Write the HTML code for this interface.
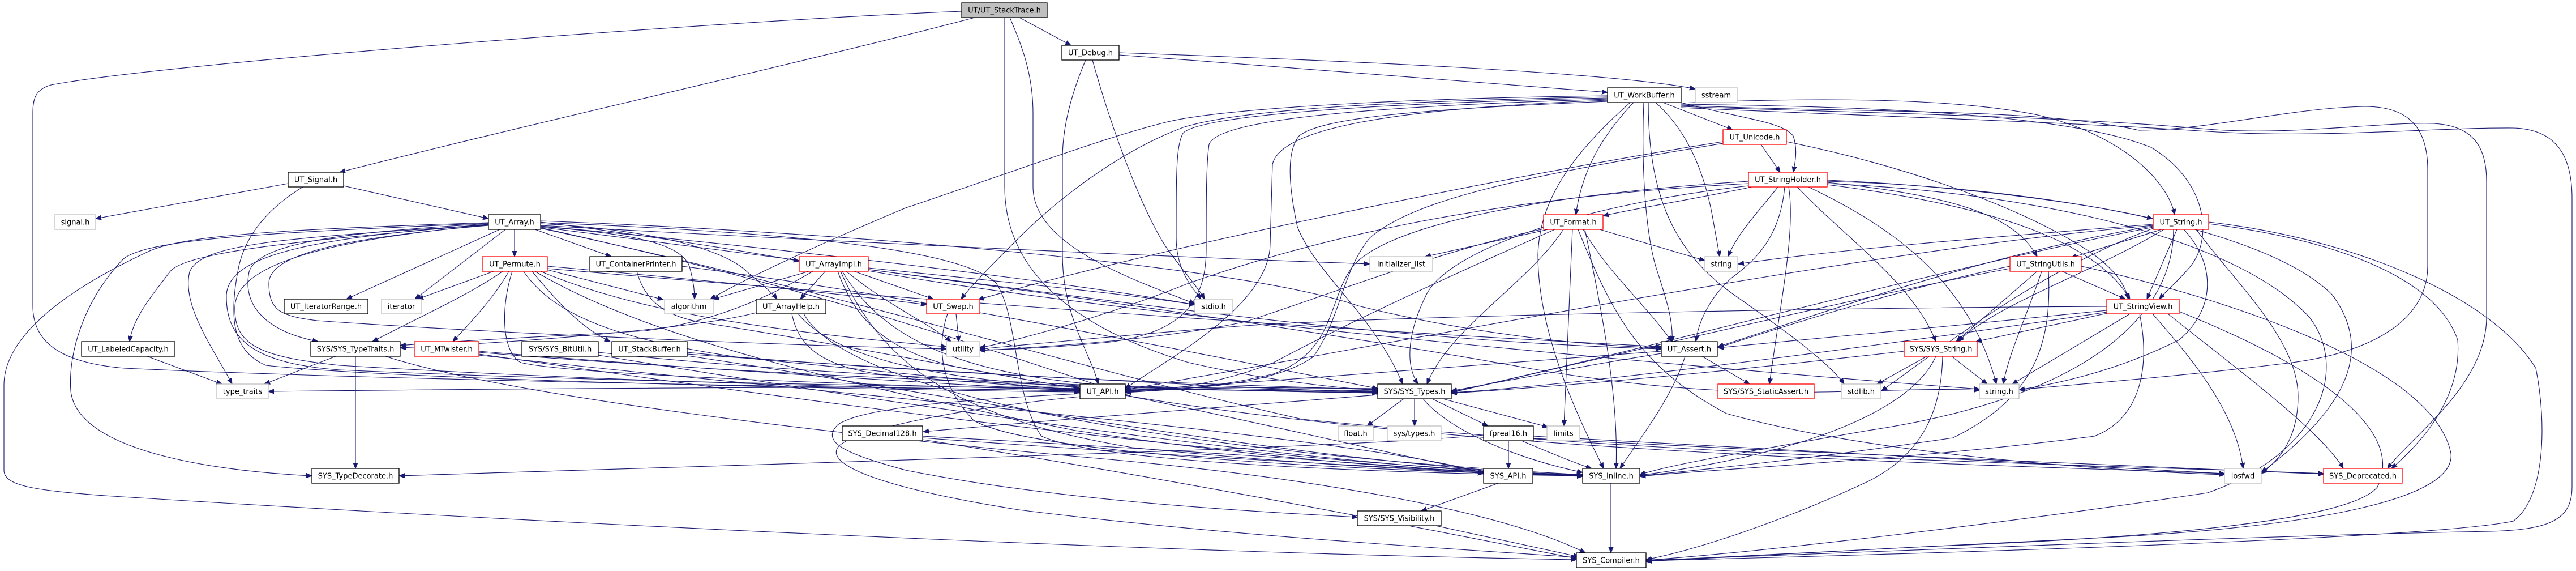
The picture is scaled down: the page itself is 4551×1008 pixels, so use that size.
<!DOCTYPE html>
<html>
<head>
<meta charset="utf-8">
<style>
html,body{margin:0;padding:0;background:#ffffff;}
svg{display:block;}
</style>
</head>
<body>
<svg xmlns="http://www.w3.org/2000/svg" width="4551" height="1008" viewBox="0 0 4551 1008">
<defs>
<marker id="a" markerWidth="12" markerHeight="10" refX="10" refY="4.5" orient="auto" markerUnits="userSpaceOnUse">
<path d="M0,0.5 L10,4.5 L0,8.5 z" fill="#191970" stroke="#191970" stroke-width="1"/>
</marker>
</defs>
<rect x="0" y="0" width="4551" height="1008" fill="#ffffff"/>
<g fill="none" stroke="#191970" stroke-width="1.1" marker-end="url(#a)">
<!-- StackTrace -->
<path d="M1722,31 C1400,115 950,215 600,304"/>
<path d="M1699,20 C1300,35 300,110 90,150 C62,158 58,175 58,200 L58,540 C58,600 100,640 220,650 C700,672 1500,684 1908,690"/>
<path d="M1775,31 L1775,330 C1775,480 1900,580 2100,640 C2250,675 2380,686 2434,689"/>
<path d="M1784,31 C1805,80 1825,130 1825,200 L1825,330 C1825,430 1990,490 2111,536"/>
<path d="M1801,31 L1892,80"/>
<!-- UT_Debug -->
<path d="M1977,97 C2300,120 2650,150 2840,163"/>
<path d="M1977,93 C2400,108 2850,128 2995,157"/>
<path d="M1918,106 C1895,160 1877,220 1877,280 L1877,450 C1877,560 1930,630 1940,678"/>
<path d="M1930,106 C1970,250 2030,400 2070,450 C2100,490 2118,510 2128,528"/>
<!-- WorkBuffer -->
<path d="M2938,181 L3061,229"/>
<path d="M2969,181 C3080,210 3150,215 3168,240 C3176,262 3172,285 3168,304"/>
<path d="M2886,181 C2830,240 2795,300 2784,379"/>
<path d="M2925,181 C2980,230 3010,300 3025,380 C3032,420 3036,440 3038,453"/>
<path d="M2880,181 C2780,270 2720,350 2717,450 C2717,600 2800,760 2833,827"/>
<path d="M2904,181 C2900,280 2905,400 2925,470 C2948,540 2956,570 2954,603"/>
<path d="M2912,181 C2912,350 2960,450 3070,525 C3170,595 3235,645 3258,678"/>
<path d="M2840,171 C2500,178 2200,190 2090,225 C1970,270 1860,360 1800,420 C1755,465 1715,505 1698,528"/>
<path d="M2840,169 C2450,174 2150,193 2059,216 C1950,243 1800,300 1600,367 C1450,430 1320,490 1255,528"/>
<path d="M2840,173 C2400,183 2120,205 2090,235 C2078,258 2078,300 2078,420 C2078,480 2110,512 2122,528"/>
<path d="M2840,175 C2400,188 2150,212 2136,255 C2131,290 2131,350 2131,440 C2131,540 2080,588 1960,604 C1860,614 1780,617 1731,618"/>
<path d="M2840,177 C2450,192 2262,228 2248,290 L2244,430 C2244,540 2060,635 1988,686"/>
<path d="M2840,179 C2500,193 2335,208 2295,240 C2272,268 2277,330 2292,400 C2322,480 2430,560 2478,678"/>
<path d="M2970,182 C3200,172 3450,172 3600,203 C3750,238 3830,320 3842,379"/>
<path d="M2970,184 C3300,188 3650,200 3800,260 C3900,320 3910,420 3870,470 C3845,500 3825,515 3815,528"/>
<path d="M2970,186 C3300,200 3600,190 3779,230 C3900,230 4050,190 4178,188 C4260,188 4289,230 4289,300 L4289,470 C4289,560 4200,620 4050,640 C3850,665 3650,680 3567,688"/>
<path d="M2970,188 C3300,200 3650,205 3900,228 C4050,240 4200,215 4300,218 C4370,222 4393,260 4393,320 L4393,560 C4393,680 4260,770 4218,827"/>
<path d="M2970,190 C3300,205 3650,215 3900,232 C4100,245 4300,225 4440,226 C4520,228 4544,280 4544,350 L4544,860 C4544,920 4500,935 4400,938 C4000,945 3300,975 2908,989"/>
<!-- Unicode -->
<path d="M3111,255 L3145,304"/>
<path d="M3044,250 C2600,320 2000,450 1728,529"/>
<path d="M3044,253 C2700,310 2500,350 2420,420 C2370,480 2370,560 2320,630 C2250,680 2100,688 1988,690"/>
<path d="M3156,250 C3400,300 3600,380 3700,450 C3740,480 3755,505 3760,528"/>
<!-- StringHolder -->
<path d="M3095,330 C3000,350 2900,366 2832,381"/>
<path d="M3141,330 C3110,370 3070,410 3053,453"/>
<path d="M3153,330 C3145,420 3100,460 3060,490 C3020,525 3000,570 2996,603"/>
<path d="M3160,330 C3172,404 3149,513 3126,678"/>
<path d="M3175,330 C3260,420 3380,500 3420,603"/>
<path d="M3195,330 C3350,404 3480,500 3527,678"/>
<path d="M3228,318 C3400,325 3650,350 3803,386"/>
<path d="M3228,322 C3450,345 3560,380 3599,453"/>
<path d="M3228,326 C3500,360 3700,420 3763,528"/>
<path d="M3089,320 C2700,345 2450,400 2390,470 C2345,530 2360,620 2250,660 C2150,685 2050,690 1988,692"/>
<path d="M3089,324 C2600,350 2300,430 2100,500 C1950,560 1800,600 1731,614"/>
<path d="M3089,328 C2800,360 2560,440 2520,520 C2490,580 2480,640 2505,678"/>
<path d="M3228,320 C3600,330 4000,400 4120,520 C4180,600 4175,700 3995,834"/>
<path d="M3228,324 C3600,340 3950,420 4080,560 C4150,650 4100,800 3900,870 C3500,930 3100,975 2908,989"/>
<!-- UT_Format -->
<path d="M2735,405 L2518,453"/>
<path d="M2826,405 L3012,460"/>
<path d="M2797,405 C2840,480 2900,530 2954,603"/>
<path d="M2762,405 C2700,500 2560,580 2521,678"/>
<path d="M2778,405 L2763,752"/>
<path d="M2747,405 C2600,470 2400,560 2250,640 C2150,680 2050,690 1988,693"/>
<path d="M2728,404 C2550,440 2350,520 2200,568 C2050,600 1850,612 1731,619"/>
<path d="M2788,405 C2850,560 2900,650 3050,730 C3300,800 3700,830 3930,838"/>
<path d="M2800,405 C2830,550 2860,700 2855,827"/>
<!-- UT_Signal -->
<path d="M509,324 L169,386"/>
<path d="M607,328 L863,386"/>
<path d="M535,330 C470,370 430,420 420,480 C405,560 410,620 470,645 C700,670 1500,688 1908,692"/>
<!-- UT_Array -->
<path d="M909,405 L909,453"/>
<path d="M883,405 L612,528"/>
<path d="M893,405 L733,528"/>
<path d="M945,405 L1080,453"/>
<path d="M863,396 C600,420 330,440 300,480 C270,520 235,560 229,603"/>
<path d="M863,397 C500,420 355,430 335,480 C320,540 380,620 410,678"/>
<path d="M863,394 C500,410 250,420 215,460 C150,530 120,620 125,690 C135,790 350,830 551,840"/>
<path d="M863,393 C500,405 320,415 260,445 C100,520 7,600 7,680 L7,830 C7,858 60,866 200,876 C900,920 2000,975 2785,988"/>
<path d="M863,395 C600,410 455,430 440,480 C428,540 470,585 562,603"/>
<path d="M863,396 C550,420 405,450 400,520 C398,600 450,642 600,653 C1200,680 2000,688 2434,691"/>
<path d="M863,398 C600,420 475,450 475,500 C475,548 495,558 560,566 C900,590 1400,610 1672,616"/>
<path d="M863,397 C560,425 420,470 415,540 C412,610 460,630 600,645 C1100,675 1600,686 1908,690"/>
<path d="M955,392 C1100,410 1300,440 1412,461"/>
<path d="M955,400 C1100,412 1200,425 1218,470 C1226,500 1227,515 1227,528"/>
<path d="M955,395 C1150,405 1280,440 1320,480 C1350,505 1365,518 1373,528"/>
<path d="M955,398 C1500,428 2100,455 2420,466"/>
<path d="M955,399 C1400,440 1900,500 2111,538"/>
<path d="M955,390 C1500,410 2200,470 2400,540 C2600,590 2800,610 2935,614"/>
<path d="M955,393 C1400,410 1700,440 1760,500 C1800,560 1790,700 1840,770 C1950,820 2500,836 2796,840"/>
<path d="M955,401 C1500,470 2200,560 2700,650 C3100,720 3300,680 3497,689"/>
<path d="M955,402 C1400,500 1700,600 2000,700 C2600,800 3500,820 3930,836"/>
<path d="M955,403 C1500,520 1900,650 2300,740 C3000,810 3700,820 4105,836"/>
<!-- UT_Permute -->
<path d="M872,479 L738,528"/>
<path d="M888,479 C830,520 740,560 658,603"/>
<path d="M899,479 C870,530 830,570 800,603"/>
<path d="M966,476 L1172,529"/>
<path d="M967,470 C1200,490 1500,520 1637,538"/>
<path d="M940,479 C990,540 1030,580 1078,603"/>
<path d="M905,479 C885,540 885,620 920,640 C1000,660 1500,680 1908,688"/>
<path d="M925,479 C980,560 1100,600 1300,630 C1800,670 2200,680 2434,688"/>
<path d="M955,479 C1100,540 1300,580 1672,612"/>
<path d="M967,474 C1500,520 2300,580 2935,612"/>
<path d="M945,479 C1150,600 1500,680 1900,760 C2300,820 2600,835 2796,838"/>
<!-- ContainerPrinter -->
<path d="M1125,479 C1140,535 1180,560 1245,570 C1500,610 1800,670 1908,686"/>
<path d="M1205,470 C1600,520 2100,620 2434,686"/>
<!-- ArrayImpl -->
<path d="M1429,479 L1260,528"/>
<path d="M1458,479 L1414,528"/>
<path d="M1509,479 L1649,528"/>
<path d="M1495,479 C1570,540 1640,570 1680,603"/>
<path d="M1534,473 C1800,500 2000,520 2111,538"/>
<path d="M1436,479 C1350,530 1250,570 1140,584 C950,595 800,602 707,610"/>
<path d="M1480,479 C1510,560 1560,620 1700,650 C1800,668 1870,680 1908,686"/>
<path d="M1534,476 C1900,520 2400,600 2935,616"/>
<path d="M1488,479 C1560,600 1700,660 1950,680 C2200,688 2350,689 2434,690"/>
<path d="M1485,479 C1560,650 1700,740 2000,790 C2400,830 2700,838 2796,839"/>
<path d="M1534,478 C2000,560 3000,650 3497,687"/>
<!-- ArrayHelp -->
<path d="M1336,552 C1250,575 1000,600 707,614"/>
<path d="M1399,554 C1410,610 1450,645 1550,660 C1700,675 1850,684 1908,688"/>
<path d="M1410,554 C1480,640 1700,680 2000,686 C2200,688 2350,690 2434,692"/>
<path d="M1420,554 C1500,700 2100,800 2796,838"/>
<!-- UT_Swap -->
<path d="M1689,554 L1694,603"/>
<path d="M1674,554 C1655,610 1660,680 1720,742 C1800,790 2200,825 2796,840"/>
<!-- StackBuffer -->
<path d="M1214,622 C1500,650 1800,680 1908,690"/>
<path d="M1214,625 C1700,660 2200,685 2434,693"/>
<path d="M1214,628 C1700,700 2300,820 2796,840"/>
<!-- MTwister -->
<path d="M846,620 C1200,650 1700,680 1908,690"/>
<path d="M846,622 C1300,660 2000,690 2434,693"/>
<path d="M846,625 C1300,690 2200,820 2796,838"/>
<path d="M846,627 C1500,700 2400,770 2621,835"/>
<!-- BitUtil -->
<path d="M1057,622 C1400,660 2000,688 2434,694"/>
<path d="M1057,627 C1500,700 2300,825 2796,841"/>
<!-- LabeledCapacity / TypeTraits -->
<path d="M260,629 L392,678"/>
<path d="M593,629 L467,678"/>
<path d="M628,629 L628,827"/>
<path d="M681,629 C900,700 1500,770 1915,807 C2300,840 2650,900 2801,976"/>
<!-- Decimal128 -->
<path d="M1630,770 C2000,790 2400,815 2621,836"/>
<path d="M1630,773 C2000,800 2500,830 2796,840"/>
<path d="M1630,776 C2100,850 2500,930 2785,986"/>
<!-- UT_API -->
<path d="M1908,695 C1700,705 1520,720 1480,750 C1450,780 1490,800 1600,830 C1850,880 2150,900 2398,913"/>
<path d="M1910,700 C1700,720 1500,760 1480,790 C1460,820 1550,860 1800,900 C2200,950 2600,970 2785,984"/>
<path d="M1988,698 C2200,740 2450,800 2621,834"/>
<!-- SYS_Types -->
<path d="M2480,704 L2415,752"/>
<path d="M2499,704 L2499,752"/>
<path d="M2530,704 L2629,752"/>
<path d="M2549,704 L2735,754"/>
<path d="M2514,704 C2560,760 2680,810 2796,834"/>
<path d="M2434,697 C2200,715 1900,738 1631,762"/>
<path d="M2434,686 C1800,680 1000,685 474,691"/>
<!-- fpreal16 -->
<path d="M2665,778 L2665,827"/>
<path d="M2688,778 C2740,800 2790,820 2812,827"/>
<path d="M2621,768 C2400,790 1500,815 705,840"/>
<path d="M2709,770 C3100,790 3600,820 3930,836"/>
<path d="M2709,774 C3200,800 3800,825 4105,837"/>
<!-- SYS_API / Inline / Visibility -->
<path d="M2647,853 L2511,902"/>
<path d="M2846,853 L2846,976"/>
<path d="M2536,928 L2790,983"/>
<!-- UT_Assert -->
<path d="M3007,629 L3091,678"/>
<path d="M2977,629 C2955,700 2900,770 2862,827"/>
<path d="M2935,620 C2700,640 2300,668 1988,690"/>
<path d="M2935,624 C2800,645 2650,675 2564,690"/>
<!-- UT_String -->
<path d="M3819,405 L3659,455"/>
<path d="M3846,405 L3793,528"/>
<path d="M3823,405 C3700,480 3520,540 3460,603"/>
<path d="M3858,405 C3910,460 3920,540 3850,600 C3750,650 3650,675 3567,688"/>
<path d="M3804,396 C3500,420 3250,440 3071,466"/>
<path d="M3804,399 C3500,450 3200,560 3035,612"/>
<path d="M3804,401 C3400,480 2900,620 2564,692"/>
<path d="M3804,403 C3600,480 3450,600 3324,690"/>
<path d="M3840,405 C3840,550 3700,700 3300,760 C3100,795 2950,820 2897,838"/>
<path d="M3880,405 C3950,500 4060,600 4060,700 C4060,770 4030,810 3995,836"/>
<path d="M3902,395 C4100,420 4300,480 4342,600 C4350,700 4280,780 4225,827"/>
<path d="M3902,392 C4150,420 4400,520 4480,650 C4500,750 4496,880 4440,920 C4300,950 3500,975 2908,990"/>
<path d="M3804,398 C3300,440 2500,600 1988,688"/>
<!-- StringUtils -->
<path d="M3643,479 L3755,528"/>
<path d="M3599,479 L3456,603"/>
<path d="M3607,479 C3580,560 3550,620 3539,678"/>
<path d="M3551,470 C3400,500 3200,560 3035,614"/>
<path d="M3551,474 C3300,520 2800,640 2564,693"/>
<path d="M3619,479 C3625,600 3600,700 3450,773 C3200,810 3000,830 2897,840"/>
<path d="M3677,470 C3950,530 4300,650 4330,800 C4340,880 4100,930 3700,950 C3300,970 3000,985 2908,990"/>
<!-- StringView -->
<path d="M3723,553 L3491,603"/>
<path d="M3763,554 L3555,678"/>
<path d="M3803,554 C3860,620 3950,720 3963,827"/>
<path d="M3722,541 C3300,543 2500,556 2200,575 C2000,590 1800,610 1731,616"/>
<path d="M3722,548 C3500,570 3200,600 3035,614"/>
<path d="M3722,551 C3400,600 2800,680 2564,693"/>
<path d="M3780,554 C3800,650 3780,740 3700,770 C3400,810 3000,830 2897,841"/>
<path d="M3850,550 C4100,650 4250,760 4200,860 C4150,920 3800,950 3400,965 C3200,975 3000,985 2908,991"/>
<path d="M3830,554 C3950,650 4100,760 4140,827"/>
<!-- SYS_String -->
<path d="M3448,629 L3511,678"/>
<path d="M3404,629 L3316,678"/>
<path d="M3420,629 C3380,720 3200,800 2897,839"/>
<path d="M3364,620 C3100,650 2800,680 2564,694"/>
<path d="M3432,629 C3430,720 3400,800 3300,850 C3150,920 3000,970 2908,988"/>
</g>

<g font-family="'DejaVu Sans', 'Liberation Sans', sans-serif" font-size="13" text-anchor="middle" fill="#000000">
<rect x="1699" y="5" width="151" height="26" fill="#bfbfbf" stroke="#000000" stroke-width="1.3"/><text x="1774.5" y="22.5">UT/UT_StackTrace.h</text>
<rect x="1876" y="80" width="101" height="26" fill="#ffffff" stroke="#000000" stroke-width="1.3"/><text x="1926.5" y="97.5">UT_Debug.h</text>
<rect x="2840" y="155" width="130" height="26" fill="#ffffff" stroke="#000000" stroke-width="1.3"/><text x="2905" y="172.5">UT_WorkBuffer.h</text>
<rect x="2995" y="155" width="74" height="26" fill="#ffffff" stroke="#bfbfbf" stroke-width="1.3"/><text x="3032" y="172.5">sstream</text>
<rect x="3044" y="229" width="112" height="26" fill="#ffffff" stroke="#ff0000" stroke-width="1.3"/><text x="3100" y="246.5">UT_Unicode.h</text>
<rect x="509" y="304" width="98" height="26" fill="#ffffff" stroke="#000000" stroke-width="1.3"/><text x="558" y="321.5">UT_Signal.h</text>
<rect x="3089" y="304" width="139" height="26" fill="#ffffff" stroke="#ff0000" stroke-width="1.3"/><text x="3158.5" y="321.5">UT_StringHolder.h</text>
<rect x="97" y="379" width="72" height="26" fill="#ffffff" stroke="#bfbfbf" stroke-width="1.3"/><text x="133" y="396.5">signal.h</text>
<rect x="863" y="379" width="92" height="26" fill="#ffffff" stroke="#000000" stroke-width="1.3"/><text x="909" y="396.5">UT_Array.h</text>
<rect x="2727" y="379" width="105" height="26" fill="#ffffff" stroke="#ff0000" stroke-width="1.3"/><text x="2779.5" y="396.5">UT_Format.h</text>
<rect x="3804" y="379" width="98" height="26" fill="#ffffff" stroke="#ff0000" stroke-width="1.3"/><text x="3853" y="396.5">UT_String.h</text>
<rect x="852" y="453" width="115" height="26" fill="#ffffff" stroke="#ff0000" stroke-width="1.3"/><text x="909.5" y="470.5">UT_Permute.h</text>
<rect x="1042" y="453" width="163" height="26" fill="#ffffff" stroke="#000000" stroke-width="1.3"/><text x="1123.5" y="470.5">UT_ContainerPrinter.h</text>
<rect x="1412" y="453" width="122" height="26" fill="#ffffff" stroke="#ff0000" stroke-width="1.3"/><text x="1473" y="470.5">UT_ArrayImpl.h</text>
<rect x="2420" y="453" width="111" height="26" fill="#ffffff" stroke="#bfbfbf" stroke-width="1.3"/><text x="2475.5" y="470.5">initializer_list</text>
<rect x="3012" y="453" width="58" height="26" fill="#ffffff" stroke="#bfbfbf" stroke-width="1.3"/><text x="3041" y="470.5">string</text>
<rect x="3551" y="453" width="126" height="26" fill="#ffffff" stroke="#ff0000" stroke-width="1.3"/><text x="3614" y="470.5">UT_StringUtils.h</text>
<rect x="502" y="528" width="148" height="26" fill="#ffffff" stroke="#000000" stroke-width="1.3"/><text x="576" y="545.5">UT_IteratorRange.h</text>
<rect x="674" y="528" width="70" height="26" fill="#ffffff" stroke="#bfbfbf" stroke-width="1.3"/><text x="709" y="545.5">iterator</text>
<rect x="1174" y="528" width="86" height="26" fill="#ffffff" stroke="#bfbfbf" stroke-width="1.3"/><text x="1217" y="545.5">algorithm</text>
<rect x="1336" y="528" width="123" height="26" fill="#ffffff" stroke="#000000" stroke-width="1.3"/><text x="1397.5" y="545.5">UT_ArrayHelp.h</text>
<rect x="1637" y="528" width="94" height="26" fill="#ffffff" stroke="#ff0000" stroke-width="1.3"/><text x="1684" y="545.5">UT_Swap.h</text>
<rect x="2111" y="528" width="66" height="26" fill="#ffffff" stroke="#bfbfbf" stroke-width="1.3"/><text x="2144" y="545.5">stdio.h</text>
<rect x="3722" y="528" width="128" height="26" fill="#ffffff" stroke="#ff0000" stroke-width="1.3"/><text x="3786" y="545.5">UT_StringView.h</text>
<rect x="144" y="603" width="165" height="26" fill="#ffffff" stroke="#000000" stroke-width="1.3"/><text x="226.5" y="620.5">UT_LabeledCapacity.h</text>
<rect x="549" y="603" width="158" height="26" fill="#ffffff" stroke="#000000" stroke-width="1.3"/><text x="628" y="620.5">SYS/SYS_TypeTraits.h</text>
<rect x="732" y="603" width="114" height="26" fill="#ffffff" stroke="#ff0000" stroke-width="1.3"/><text x="789" y="620.5">UT_MTwister.h</text>
<rect x="922" y="603" width="135" height="26" fill="#ffffff" stroke="#000000" stroke-width="1.3"/><text x="989.5" y="620.5">SYS/SYS_BitUtil.h</text>
<rect x="1081" y="603" width="133" height="26" fill="#ffffff" stroke="#000000" stroke-width="1.3"/><text x="1147.5" y="620.5">UT_StackBuffer.h</text>
<rect x="1672" y="603" width="59" height="26" fill="#ffffff" stroke="#bfbfbf" stroke-width="1.3"/><text x="1701.5" y="620.5">utility</text>
<rect x="2935" y="603" width="99" height="26" fill="#ffffff" stroke="#000000" stroke-width="1.3"/><text x="2984.5" y="620.5">UT_Assert.h</text>
<rect x="3364" y="603" width="130" height="26" fill="#ffffff" stroke="#ff0000" stroke-width="1.3"/><text x="3429" y="620.5">SYS/SYS_String.h</text>
<rect x="383" y="678" width="91" height="26" fill="#ffffff" stroke="#bfbfbf" stroke-width="1.3"/><text x="428.5" y="695.5">type_traits</text>
<rect x="1908" y="678" width="80" height="26" fill="#ffffff" stroke="#000000" stroke-width="1.3"/><text x="1948" y="695.5">UT_API.h</text>
<rect x="2434" y="678" width="130" height="26" fill="#ffffff" stroke="#000000" stroke-width="1.3"/><text x="2499" y="695.5">SYS/SYS_Types.h</text>
<rect x="3035" y="678" width="170" height="26" fill="#ffffff" stroke="#ff0000" stroke-width="1.3"/><text x="3120" y="695.5">SYS/SYS_StaticAssert.h</text>
<rect x="3253" y="678" width="70" height="26" fill="#ffffff" stroke="#bfbfbf" stroke-width="1.3"/><text x="3288" y="695.5">stdlib.h</text>
<rect x="3497" y="678" width="70" height="26" fill="#ffffff" stroke="#bfbfbf" stroke-width="1.3"/><text x="3532" y="695.5">string.h</text>
<rect x="1488" y="752" width="142" height="26" fill="#ffffff" stroke="#000000" stroke-width="1.3"/><text x="1559" y="769.5">SYS_Decimal128.h</text>
<rect x="2364" y="752" width="62" height="26" fill="#ffffff" stroke="#bfbfbf" stroke-width="1.3"/><text x="2395" y="769.5">float.h</text>
<rect x="2451" y="752" width="95" height="26" fill="#ffffff" stroke="#bfbfbf" stroke-width="1.3"/><text x="2498.5" y="769.5">sys/types.h</text>
<rect x="2621" y="752" width="88" height="26" fill="#ffffff" stroke="#000000" stroke-width="1.3"/><text x="2665" y="769.5">fpreal16.h</text>
<rect x="2733" y="752" width="58" height="26" fill="#ffffff" stroke="#bfbfbf" stroke-width="1.3"/><text x="2762" y="769.5">limits</text>
<rect x="551" y="827" width="154" height="26" fill="#ffffff" stroke="#000000" stroke-width="1.3"/><text x="628" y="844.5">SYS_TypeDecorate.h</text>
<rect x="2621" y="827" width="87" height="26" fill="#ffffff" stroke="#000000" stroke-width="1.3"/><text x="2664.5" y="844.5">SYS_API.h</text>
<rect x="2796" y="827" width="101" height="26" fill="#ffffff" stroke="#000000" stroke-width="1.3"/><text x="2846.5" y="844.5">SYS_Inline.h</text>
<rect x="3930" y="827" width="65" height="26" fill="#ffffff" stroke="#bfbfbf" stroke-width="1.3"/><text x="3962.5" y="844.5">iosfwd</text>
<rect x="4105" y="827" width="139" height="26" fill="#ffffff" stroke="#ff0000" stroke-width="1.3"/><text x="4174.5" y="844.5">SYS_Deprecated.h</text>
<rect x="2398" y="902" width="148" height="26" fill="#ffffff" stroke="#000000" stroke-width="1.3"/><text x="2472" y="919.5">SYS/SYS_Visibility.h</text>
<rect x="2785" y="976" width="123" height="26" fill="#ffffff" stroke="#000000" stroke-width="1.3"/><text x="2846.5" y="993.5">SYS_Compiler.h</text>
</g>
</svg>
</body>
</html>
